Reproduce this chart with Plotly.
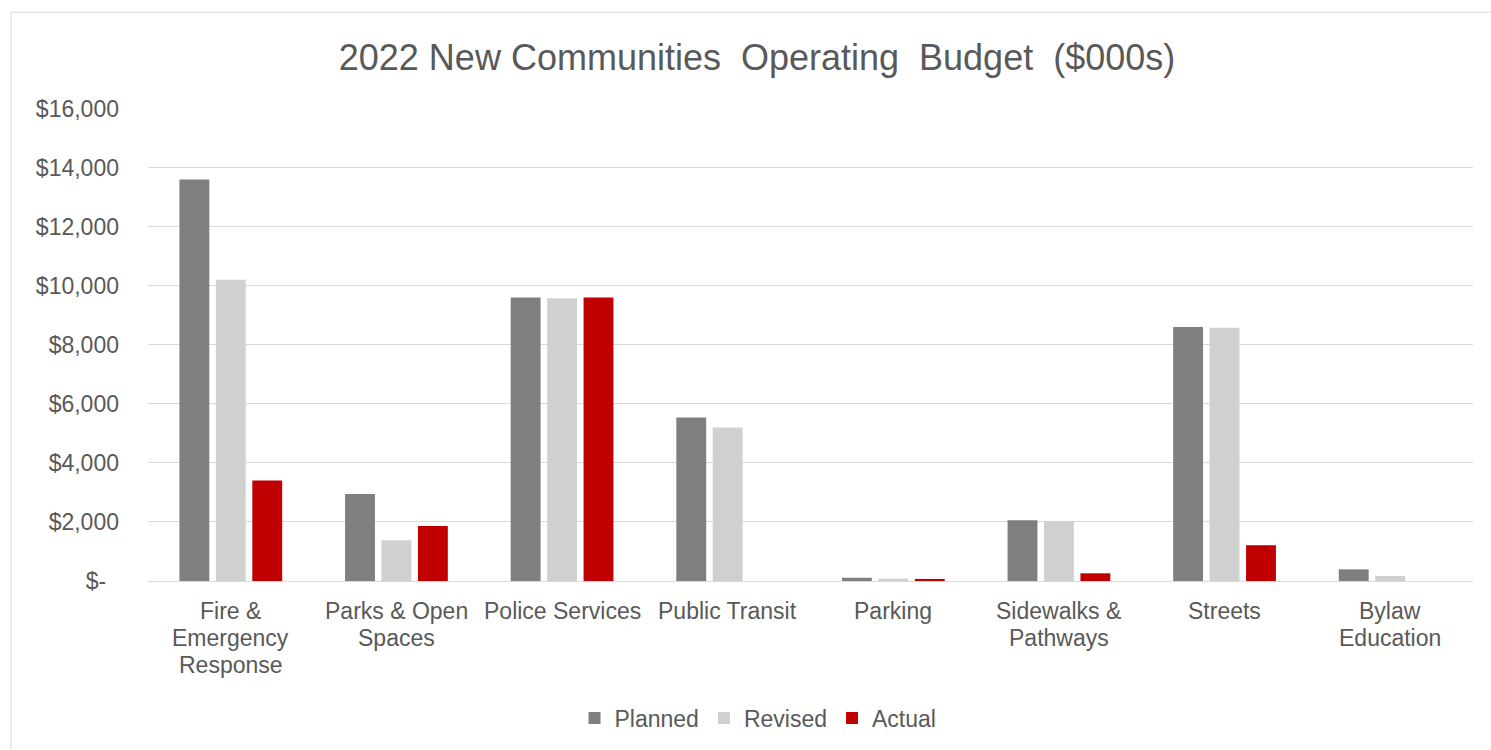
import plotly.graph_objects as go

categories = [
    "Fire &<br>Emergency<br>Response",
    "Parks & Open<br>Spaces",
    "Police Services",
    "Public Transit",
    "Parking",
    "Sidewalks &<br>Pathways",
    "Streets",
    "Bylaw<br>Education",
]
planned = [13600, 2950, 9600, 5540, 110, 2060, 8600, 395]
revised = [10200, 1380, 9580, 5200, 80, 2030, 8580, 170]
actual = [3400, 1860, 9600, 0, 70, 260, 1215, 0]

tick_vals = [0, 2000, 4000, 6000, 8000, 10000, 12000, 14000, 16000]
tick_text = ["$-\u00a0\u00a0", "$2,000", "$4,000", "$6,000", "$8,000", "$10,000",
             "$12,000", "$14,000", "$16,000"]

W, H = 1491, 750
L, R, T, B = 148, 18, 108, 168
pw, ph = W - L - R, H - T - B

FONT = "Liberation Sans, Arial, sans-serif"
TXT = "#595959"


def px_x(px):
    return (px - L) / pw


def px_y(py):
    return (H - B - py) / ph


fig = go.Figure()
fig.add_bar(name="Planned", x=categories, y=planned, marker=dict(color="#7f7f7f", line_width=0))
fig.add_bar(name="Revised", x=categories, y=revised, marker=dict(color="#d0d0d0", line_width=0))
fig.add_bar(name="Actual", x=categories, y=actual, marker=dict(color="#c00000", line_width=0))

# Category labels drawn line by line for tighter line spacing
annotations = []
for cat in categories:
    for i, line in enumerate(cat.split("<br>")):
        annotations.append(dict(
            x=cat, xref="x", y=px_y(612 + 27 * i), yref="paper",
            text=line, showarrow=False, xanchor="center", yanchor="middle",
            font=dict(family=FONT, size=23, color=TXT),
        ))

fig.update_layout(
    width=W,
    height=H,
    margin=dict(l=L, r=R, t=T, b=B),
    paper_bgcolor="white",
    plot_bgcolor="white",
    barmode="group",
    bargap=0.34,
    bargroupgap=0.18,
    font=dict(family=FONT, color=TXT, size=22),
    title=dict(
        text="2022 New Communities  Operating  Budget  ($000s)",
        x=757 / W,
        xref="container",
        xanchor="center",
        y=1 - 57 / H,
        yref="container",
        yanchor="middle",
        font=dict(family=FONT, size=36, color=TXT),
    ),
    xaxis=dict(
        showgrid=False,
        showline=True,
        linecolor="#d9d9d9",
        linewidth=1,
        ticks="",
        showticklabels=False,
    ),
    yaxis=dict(
        range=[0, 16020],
        tickvals=tick_vals,
        ticktext=tick_text,
        showgrid=True,
        gridcolor="#d9d9d9",
        gridwidth=1,
        zeroline=False,
        showline=False,
        ticks="",
        ticklabelstandoff=28,
        tickfont=dict(size=23, color=TXT),
    ),
    legend=dict(
        orientation="h",
        x=px_x(758),
        xanchor="center",
        y=px_y(718),
        yanchor="middle",
        font=dict(size=23, color=TXT),
        itemwidth=30,
        traceorder="normal",
    ),
    annotations=annotations,
    shapes=[
        dict(
            type="rect",
            xref="paper",
            yref="paper",
            x0=px_x(11),
            x1=px_x(W + 20),
            y0=px_y(H + 20),
            y1=px_y(12),
            line=dict(color="#d9d9d9", width=1),
            fillcolor="rgba(0,0,0,0)",
            layer="below",
        )
    ],
)

fig.write_html("out.html")
